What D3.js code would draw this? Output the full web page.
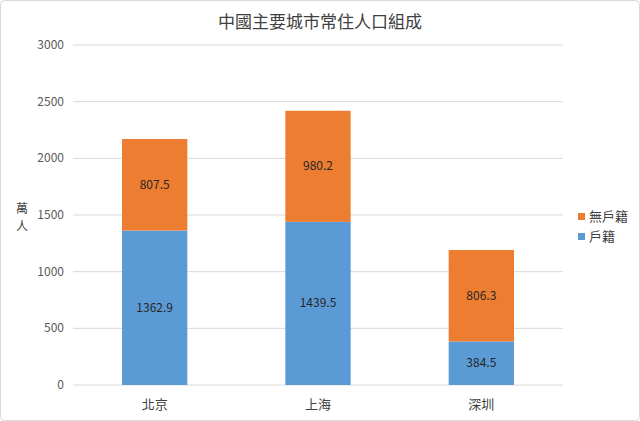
<!DOCTYPE html><html><head><meta charset="utf-8"><script src="https://cdn.jsdelivr.net/npm/d3@7"></script>
<style>body{margin:0;background:#fff}text{font-family:"Noto Sans CJK TC","Noto Sans",sans-serif}</style></head><body>
<svg id="c" width="640" height="421"></svg>
<script>
const categories=["北京","上海","深圳"];
const huji=[1362.9,1439.5,384.5];
const feihuji=[807.5,980.2,806.3];
const seriesNames=["戶籍","無戶籍"];
const yTicks=[0,500,1000,1500,2000,2500,3000];
const colors=["#5B9BD5","#ED7D31"];
const svg=d3.select("#c");
svg.append("rect").attr("x",0.5).attr("y",0.5).attr("width",639).attr("height",420).attr("rx",4).attr("fill","#fff").attr("stroke","#d9d9d9");
const x=d3.scaleBand().domain(categories).range([73,563]).paddingInner(0.6).paddingOuter(0.3);
const y=d3.scaleLinear().domain([0,3000]).range([385,45]);
svg.selectAll(".g").data(yTicks).join("line").attr("x1",73).attr("x2",563).attr("y1",d=>y(d)).attr("y2",d=>y(d)).attr("stroke","#d9d9d9");
svg.selectAll(".yl").data(yTicks).join("text").attr("x",64).attr("y",d=>y(d)+4).attr("text-anchor","end").attr("font-size",12).attr("fill","#595959").text(d=>d);
const data=categories.map((c,i)=>({c,a:huji[i],b:feihuji[i]}));
data.forEach(d=>{
 svg.append("rect").attr("x",x(d.c)).attr("width",x.bandwidth()).attr("y",y(d.a)).attr("height",y(0)-y(d.a)).attr("fill",colors[0]);
 svg.append("rect").attr("x",x(d.c)).attr("width",x.bandwidth()).attr("y",y(d.a+d.b)).attr("height",y(d.a)-y(d.a+d.b)).attr("fill",colors[1]);
 const cx=x(d.c)+x.bandwidth()/2;
 svg.append("text").attr("x",cx).attr("y",(y(0)+y(d.a))/2+4).attr("text-anchor","middle").attr("font-size",12).attr("fill","#262626").text(d.a);
 svg.append("text").attr("x",cx).attr("y",(y(d.a)+y(d.a+d.b))/2+4).attr("text-anchor","middle").attr("font-size",12).attr("fill","#262626").text(d.b);
 svg.append("text").attr("x",cx).attr("y",409).attr("text-anchor","middle").attr("font-size",13).attr("fill","#404040").text(d.c);
});
svg.append("text").attr("x",320).attr("y",28).attr("text-anchor","middle").attr("font-size",17).attr("fill","#404040").text("中國主要城市常住人口組成");
svg.append("text").attr("x",22).attr("y",213).attr("text-anchor","middle").attr("font-size",12).attr("fill","#404040").text("萬");
svg.append("text").attr("x",22).attr("y",231).attr("text-anchor","middle").attr("font-size",12).attr("fill","#404040").text("人");
[[1,217],[0,237]].forEach(([i,yy])=>{
 svg.append("rect").attr("x",578).attr("y",yy-4).attr("width",7).attr("height",7).attr("fill",colors[i]);
 svg.append("text").attr("x",589).attr("y",yy+4).attr("font-size",13).attr("fill","#404040").text(seriesNames[i]);
});
</script></body></html>
